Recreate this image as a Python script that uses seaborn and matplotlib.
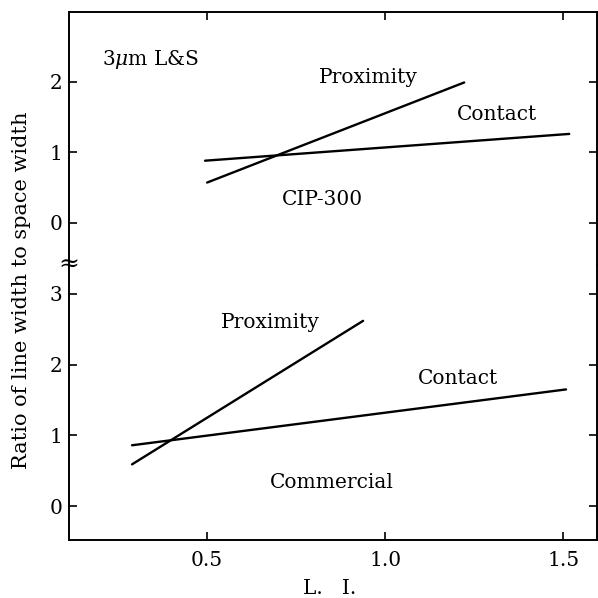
import matplotlib
matplotlib.use("Agg")
import matplotlib.pyplot as plt
import seaborn as sns
import pandas as pd

# ---- data ----
# Upper panel: CIP-300
cip_contact_x = [0.494, 1.517]
cip_contact_y = [0.88, 1.26]
cip_prox_x = [0.50, 1.222]
cip_prox_y = [0.57, 1.99]
# Lower panel: Commercial
com_contact_x = [0.289, 1.508]
com_contact_y = [0.86, 1.65]
com_prox_x = [0.289, 0.938]
com_prox_y = [0.59, 2.62]

x_ticks = [0.5, 1.0, 1.5]
x_tick_labels = ["0.5", "1.0", "1.5"]
upper_yticks = [0, 1, 2]
lower_yticks = [0, 1, 2, 3]

sns.set_style("ticks")
plt.rcParams["font.family"] = ["DejaVu Serif"]
plt.rcParams["mathtext.fontset"] = "dejavuserif"
for k in ["text.color", "axes.labelcolor", "xtick.color", "ytick.color", "axes.edgecolor"]:
    plt.rcParams[k] = "black"

fig = plt.figure(figsize=(5.98, 5.98), dpi=100)
left, right = 69 / 598, 597 / 598
top_px, brk_px, bot_px = 12, 265, 540
ax_u = fig.add_axes([left, 1 - brk_px / 598, right - left, (brk_px - top_px) / 598])
ax_l = fig.add_axes([left, 1 - bot_px / 598, right - left, (bot_px - brk_px) / 598])

lw = 1.7
for ax, sets in [
    (ax_u, [(cip_contact_x, cip_contact_y), (cip_prox_x, cip_prox_y)]),
    (ax_l, [(com_contact_x, com_contact_y), (com_prox_x, com_prox_y)]),
]:
    for xs, ys in sets:
        df = pd.DataFrame({"x": xs, "y": ys})
        sns.lineplot(data=df, x="x", y="y", ax=ax, color="black", linewidth=lw)
    ax.set_xlim(0.112, 1.595)
    ax.set_xlabel("")
    ax.set_ylabel("")
    for s in ax.spines.values():
        s.set_linewidth(1.4)
        s.set_color("black")

ax_u.set_ylim(-0.6, 2.99)
ax_l.set_ylim(-0.48, 3.41)

ax_u.spines["bottom"].set_visible(False)
ax_l.spines["top"].set_visible(False)

ax_u.set_yticks(upper_yticks)
ax_u.set_yticklabels([str(v) for v in upper_yticks])
ax_l.set_yticks(lower_yticks)
ax_l.set_yticklabels([str(v) for v in lower_yticks])

ax_u.set_xticks(x_ticks)
ax_l.set_xticks(x_ticks)
ax_l.set_xticklabels(x_tick_labels)

tfs = 14.5
ax_u.tick_params(axis="x", which="both", top=True, bottom=False, labeltop=False,
                 labelbottom=False, direction="in", length=6, width=1.2)
ax_l.tick_params(axis="x", which="both", top=False, bottom=True, labelbottom=True,
                 direction="in", length=6, width=1.2, labelsize=tfs, pad=8)
for ax in (ax_u, ax_l):
    ax.tick_params(axis="y", left=True, right=True, direction="in", length=6,
                   width=1.2, labelsize=tfs, pad=5)

fs = 14.5
ax_u.text(0.205, 2.31, r"3$\mu$m L&S", fontsize=fs, ha="left", va="center")
ax_u.text(0.952, 2.06, "Proximity", fontsize=fs, ha="center", va="center")
ax_u.text(1.315, 1.53, "Contact", fontsize=fs, ha="center", va="center")
ax_u.text(0.823, 0.33, "CIP-300", fontsize=fs, ha="center", va="center")
ax_l.text(0.677, 2.59, "Proximity", fontsize=fs, ha="center", va="center")
ax_l.text(1.205, 1.80, "Contact", fontsize=fs, ha="center", va="center")
ax_l.text(0.851, 0.33, "Commercial", fontsize=fs, ha="center", va="center")

# axis break marker on the left spine
fig.text(left, 1 - brk_px / 598, "≈", fontsize=18, ha="center", va="center")

fig.text(22 / 598, 1 - 290 / 598, "Ratio of line width to space width",
         rotation=90, fontsize=15, ha="center", va="center")
fig.text(330 / 598, 1 - 588 / 598, "L.   I.", fontsize=14.5, ha="center", va="center")

fig.savefig("out.png", dpi=100)
